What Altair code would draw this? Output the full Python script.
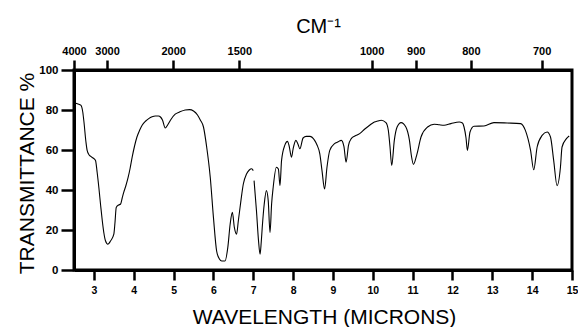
import altair as alt
import pandas as pd

# Wavelength (microns) and % transmittance
wl_a = [2.52, 2.6, 2.67, 2.72, 2.75, 2.8, 2.83, 2.88, 2.92, 2.98, 3.04, 3.08, 3.125, 3.17, 3.21,
        3.25, 3.29, 3.35, 3.42, 3.5, 3.53, 3.56, 3.62, 3.67, 3.71, 3.75, 3.8, 3.86, 3.91, 3.96,
        4.02, 4.08, 4.15, 4.21, 4.3, 4.375, 4.46, 4.54, 4.62, 4.67, 4.72, 4.79, 4.85, 4.92, 5.04,
        5.15, 5.29, 5.4, 5.5, 5.6, 5.67, 5.75, 5.83, 5.92, 6.0, 6.08, 6.15, 6.21, 6.29, 6.36,
        6.42, 6.475, 6.525, 6.58, 6.625, 6.69, 6.75, 6.83, 6.9, 6.96, 7.0]
tr_a = [83.5, 83, 82.4, 79, 74, 64, 59.8, 57.5, 56.8, 56, 54.8, 49, 41, 32, 24.6,
        18.5, 14.6, 12.9, 14.6, 17.9, 24, 31.3, 32.5, 33, 36, 38.9, 42, 46.4, 51, 56.4,
        62, 66.5, 70, 72.4, 74.5, 75.7, 76.6, 77, 77, 76.5, 75, 71, 72.5, 74.9, 77.9,
        79, 80, 80.2, 79.5, 77.5, 75, 71.5, 61.5, 46.4, 26.3, 9.5, 5.5, 4.5, 4.5, 11.2,
        23, 28.8, 21.3, 17.9, 24.6, 34.7, 43, 48, 50, 50.6, 49.7]

wl_b = [7.02, 7.08, 7.13, 7.17, 7.2, 7.225, 7.275, 7.33, 7.375, 7.42, 7.46, 7.5, 7.58, 7.63,
        7.67, 7.71, 7.79, 7.86, 7.9, 7.96, 8.0, 8.07, 8.12, 8.17, 8.25, 8.33, 8.42, 8.54, 8.6,
        8.67, 8.725, 8.79, 8.85, 8.92, 9.04, 9.12, 9.21, 9.275, 9.33, 9.39, 9.46, 9.55, 9.67,
        9.8, 9.92, 10.04, 10.125, 10.21, 10.33, 10.39, 10.43, 10.475, 10.54, 10.61, 10.71,
        10.83, 10.92, 10.97, 11.02, 11.11, 11.21, 11.375, 11.54, 11.67, 11.79, 11.96, 12.17,
        12.25, 12.29, 12.34, 12.375, 12.44, 12.54, 12.79, 13.04, 13.375, 13.71, 13.83, 13.96,
        14.04, 14.125, 14.25, 14.375, 14.46, 14.54, 14.625, 14.71, 14.75, 14.86, 14.93]
tr_b = [44.7, 29.6, 15, 7.9, 14, 21.3, 33, 39.7, 34.7, 18.8, 33, 41.4, 51.4, 50.5,
        42.2, 54.8, 62.3, 64.3, 62, 56.4, 60.6, 64.8, 63, 60.6, 66, 66.8, 66.8, 64.8, 62.5,
        58.1, 49.7, 40.5, 51.4, 59.8, 63.2, 64, 64.8, 61.8, 53.9, 62.3, 65.7, 67, 68.2,
        70.5, 72.4, 74, 74.5, 74.9, 73.7, 69.8, 62, 52.3, 64.8, 71.5, 73.7,
        71.5, 64.8, 57, 52.8, 58.1, 66.5, 71.5, 72.9, 72.6, 72.4, 73.2, 74,
        73.5, 71.5, 66, 59.8, 69, 71.9, 72, 73.7, 73.5, 73.2, 69.8, 59.8,
        50.1, 61.5, 67.3, 69, 66.5, 54.8, 42.2, 51.4, 61.5, 65.7, 67]

micron_ticks = [3, 4, 5, 6, 7, 8, 9, 10, 11, 12, 13, 14, 15]
wavenumber_ticks = [4000, 3000, 2000, 1500, 1000, 900, 800, 700]
y_ticks = [0, 20, 40, 60, 80, 100]

df = pd.DataFrame({
    "wl": wl_a + wl_b,
    "T": tr_a + tr_b,
    "seg": ["a"] * len(wl_a) + ["b"] * len(wl_b),
})
top_df = pd.DataFrame({"pos": [10000.0 / w for w in wavenumber_ticks]})

FONT = "Liberation Sans"

line = alt.Chart(df).mark_line(color="black", strokeWidth=1.1, interpolate="monotone").encode(
    x=alt.X("wl:Q", scale=alt.Scale(domain=[2.5, 15], nice=False, zero=False),
            axis=alt.Axis(values=micron_ticks, format="d", orient="bottom",
                          title="WAVELENGTH (MICRONS)", titleX=250, titleY=53,
                          titleAlign="center", titleBaseline="alphabetic",
                          titleFontSize=21, titleFontWeight="normal",
                          tickSize=10, labelPadding=5, labelFontSize=10.5,
                          labelFontWeight="bold", labelFlush=False, labelOverlap=False)),
    y=alt.Y("T:Q", scale=alt.Scale(domain=[0, 100], nice=False),
            axis=alt.Axis(values=y_ticks, title="TRANSMITTANCE  %", titleAngle=270,
                          titleX=-41, titleY=103, titleAlign="center",
                          titleBaseline="alphabetic", titleFontSize=21,
                          titleFontWeight="normal", tickSize=13, labelPadding=3,
                          labelFontSize=11.5, labelFontWeight="bold",
                          labelFlush=False, labelOverlap=False)),
    detail="seg:N",
)

top = alt.Chart(top_df).mark_tick(opacity=0).encode(
    x=alt.X("pos:Q", scale=alt.Scale(domain=[2.5, 15.05], nice=False, zero=False),
            axis=alt.Axis(values=[10000.0 / w for w in wavenumber_ticks], orient="top",
                          labelExpr="format(10000 / datum.value, '.0f')",
                          title="CM⁻¹", titleX=244, titleY=-38,
                          titleAlign="center", titleBaseline="alphabetic",
                          titleFontSize=20, titleFontWeight="normal",
                          tickSize=10, labelPadding=4, labelFontSize=11,
                          labelFontWeight="bold", labelFlush=False, labelOverlap=False)),
)

chart = alt.layer(line, top).resolve_scale(x="independent").properties(
    width=498, height=200,
    background="white",
    autosize=alt.AutoSizeParams(type="none"),
    padding={"left": 74, "top": 70, "right": 6, "bottom": 57},
).configure_view(stroke="black", strokeWidth=3).configure_axis(
    domainColor="black", domainWidth=3, tickColor="black", tickWidth=2.5,
    labelColor="black", titleColor="black", labelFont=FONT, titleFont=FONT,
    grid=False,
)

chart.save("out.html", embed_options={"renderer": "svg", "actions": False})
